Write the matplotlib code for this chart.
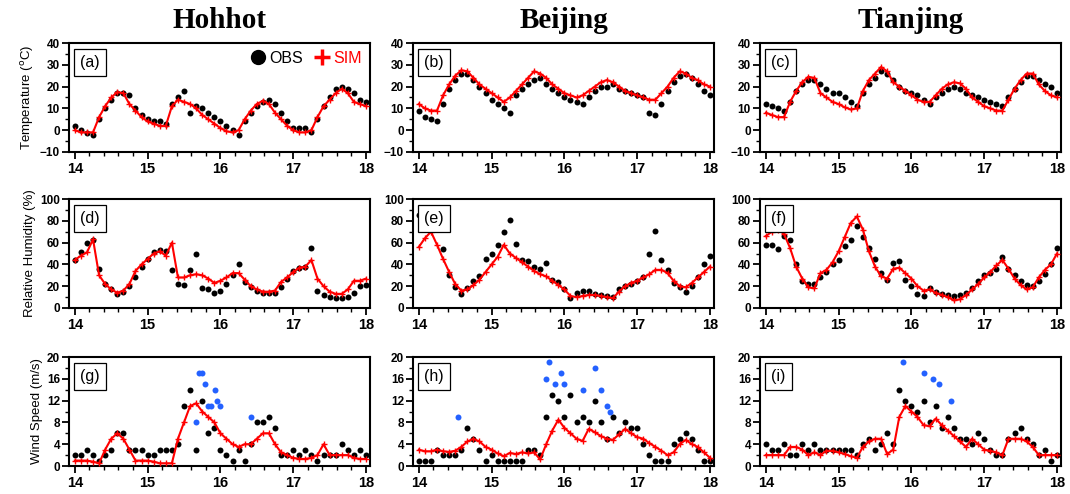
import numpy as np
import matplotlib
matplotlib.use('Agg')
import matplotlib.pyplot as plt
from matplotlib.ticker import MultipleLocator

plt.rcParams['font.family'] = ['Liberation Sans', 'DejaVu Sans']

# time axis, every 2 h from day 14 to day 18
t = 14 + np.arange(49) / 12.0

cities = ['Hohhot', 'Beijing', 'Tianjing']

# ---- temperature (degC)
t2_obs_hh = [2, 0, -1.5, -2, 5, 10, 14, 17, 17, 16, 10, 7,
             5, 4, 4, 3, 12, 15, 18, 8, 11, 10, 8, 6,
             4, 2, 0, -2, 4, 8, 11, 13, 14, 12, 8, 4,
             1, 1, 1, -1, 5, 11, 15, 19, 20, 19, 17, 14,
             13]
t2_sim_hh = [0, -1, -1, -1, 6, 11, 15, 17.5, 17, 12, 9, 6,
             4, 3, 2, 2, 11, 14, 13, 12, 10, 7, 5, 3,
             1, -0.5, -1, 0, 5, 9, 12, 13.5, 12, 8, 5, 2,
             0, -1, -1, 0, 6, 11, 14, 17, 19, 17, 13, 12,
             11]
t2_obs_bj = [9, 6, 5, 4, 12, 19, 23, 26, 26, 23, 20, 17,
             14, 12, 10, 8, 16, 19, 21, 23, 24, 21, 19, 17,
             15, 14, 13, 12, 15, 18, 20, 20, 21, 19, 18, 17,
             16, 15, 8, 7, 12, 18, 22, 25, 26, 24, 21, 18,
             16]
t2_sim_bj = [12, 10, 9, 9, 16, 21, 25, 27.5, 27, 24, 21, 19,
             17, 15, 13, 15, 18, 21, 24, 27, 26, 24, 21, 19,
             17, 16, 15, 16, 18, 20, 22, 23, 22, 20, 18, 17,
             16, 15, 14, 14, 17, 20, 24, 27, 26, 24, 23, 21,
             20]
t2_obs_tj = [12, 11, 10, 9, 13, 18, 21, 23, 23, 21, 19, 17,
             17, 15, 13, 11, 17, 21, 24, 27, 26, 23, 20, 18,
             17, 16, 14, 12, 15, 17, 19, 20, 19, 17, 16, 15,
             14, 13, 12, 11, 15, 19, 22, 25, 25, 23, 21, 20,
             17]
t2_sim_tj = [8, 7, 6, 6, 13, 18, 22, 24.5, 24, 17, 15, 13,
             12, 10.5, 9.5, 10, 18, 23, 26, 29, 27, 22, 20, 18,
             16, 14, 13, 13, 16, 19, 21, 22, 21.5, 19, 15, 13,
             11, 10, 9, 9, 14, 19, 23, 26, 26, 21, 18, 16,
             15]

# ---- relative humidity (%)
rh_obs_hh = [44, 51, 60, 62, 36, 22, 17, 13, 15, 20, 28, 38,
             45, 51, 53, 52, 35, 22, 21, 35, 50, 18, 17, 14,
             16, 22, 30, 40, 24, 19, 16, 14, 14, 14, 19, 27,
             34, 37, 38, 55, 16, 12, 10, 9, 9, 10, 14, 20,
             21]
rh_sim_hh = [44, 48, 51, 63, 30, 22, 17, 14, 16, 22, 34, 40,
             45, 50, 52, 48, 60, 28, 28, 30, 31, 30, 27, 23,
             25, 28, 32, 32, 26, 20, 17, 15, 15, 16, 24, 28,
             33, 37, 38, 44, 27, 20, 15, 13, 13, 17, 25, 25,
             27]
rh_obs_bj = [85, 86, 84, 78, 54, 30, 19, 13, 18, 25, 29, 45,
             50, 58, 70, 81, 59, 44, 43, 38, 36, 41, 26, 24,
             17, 9, 14, 16, 16, 13, 12, 11, 10, 17, 20, 22,
             25, 28, 50, 71, 44, 35, 23, 19, 15, 20, 28, 40,
             48]
rh_sim_bj = [56, 64, 70, 58, 45, 33, 22, 16, 17, 21, 26, 33,
             40, 47, 58, 50, 46, 42, 38, 34, 31, 29, 25, 21,
             17, 11, 10, 11, 12, 12, 11, 10, 9, 15, 20, 23,
             25, 28, 31, 35, 35, 32, 25, 20, 19, 23, 28, 33,
             38]
rh_obs_tj = [58, 58, 54, 66, 62, 40, 25, 22, 22, 28, 33, 40,
             44, 57, 62, 75, 65, 55, 45, 32, 26, 41, 43, 26,
             20, 13, 11, 18, 15, 13, 12, 11, 12, 14, 18, 25,
             30, 32, 36, 47, 36, 30, 25, 21, 20, 25, 31, 40,
             55]
rh_sim_tj = [66, 70, 72, 68, 55, 38, 27, 19, 18, 32, 35, 42,
             52, 65, 78, 84, 72, 52, 38, 29, 27, 36, 37, 32,
             27, 20, 16, 17, 14, 12, 10, 7, 8, 12, 17, 22,
             28, 33, 39, 44, 36, 27, 21, 17, 19, 28, 35, 40,
             50]

# ---- wind speed (m/s)
ws_obs_hh = [2, 2, 3, 2, 1, 2, 3, 6, 6, 3, 3, 3,
             2, 2, 3, 3, 3, 4, 11, 14, 3, 12, 6, 7,
             3, 2, 1, 3, 1, 4, 8, 8, 9, 7, 2, 2,
             3, 2, 3, 2, 1, 2, 2, 2, 4, 3, 2, 3,
             2]
ws_sim_hh = [1, 1, 1, 0.8, 0.5, 3, 5, 6, 5, 3, 1, 1,
             1, 0.8, 0.5, 0.5, 0.5, 5, 8, 11, 11.5, 10, 9, 8,
             6, 5, 4, 3.5, 4, 4, 5, 6, 6, 4, 2.5, 2,
             1.5, 1.3, 1.3, 1.5, 2, 4, 2, 2, 2, 2, 1.5, 1.3,
             1.3]
ws_obs_bj = [1, 1, 1, 3, 2, 2, 2, 3, 7, 5, 3, 1,
             2, 1, 1, 1, 1, 1, 3, 3, 2, 9, 13, 12,
             9, 13, 8, 9, 8, 12, 8, 5, 9, 6, 8, 7,
             7, 4, 2, 1, 1, 1, 4, 5, 6, 5, 3, 1,
             1]
ws_sim_bj = [3, 2.7, 2.7, 3, 2.7, 2.6, 2.8, 3.5, 4.5, 5, 4.5, 3.5,
             3, 2.3, 1.8, 2.4, 2.2, 2.5, 2.3, 2.5, 1.2, 4, 6.5, 8.5,
             7, 6, 5, 4.6, 6.8, 6.2, 5.5, 5, 4.8, 5.8, 6.8, 6,
             5.3, 5, 4.2, 3.5, 2.8, 2, 2.5, 4, 4.8, 4, 3.5, 2.5,
             1.5]
ws_obs_tj = [4, 3, 3, 4, 2, 2, 4, 3, 4, 3, 3, 3,
             3, 3, 3, 2, 4, 5, 3, 4, 6, 4, 14, 12,
             11, 10, 12, 8, 11, 7, 9, 7, 5, 5, 4, 6,
             5, 3, 2, 2, 5, 6, 7, 5, 4, 2, 3, 1,
             2]
ws_sim_tj = [2, 2, 2, 2, 3.5, 3.5, 3, 2, 2.5, 2, 2.8, 2.8,
             2.5, 2.2, 1.8, 1.5, 3.5, 4.5, 5, 5, 2.2, 3, 9, 11,
             10, 9, 7.5, 7.3, 8.7, 7.5, 6.5, 5.5, 4.5, 3.5, 5, 4,
             3, 2.8, 2.5, 2, 5, 5, 5, 4.5, 3.5, 2, 2, 2,
             2]

# gust-like obs shown in blue
blue_t_hh = [15.67, 15.71, 15.75, 15.79, 15.83, 15.87, 15.92, 15.96, 16.0, 16.42]
blue_v_hh = [8, 17, 17, 15, 11, 11, 14, 12, 11, 9]
blue_t_bj = [14.54, 15.75, 15.79, 15.87, 15.96, 16.0, 16.25, 16.42, 16.5, 16.58, 16.62]
blue_v_bj = [9, 16, 19, 15, 17, 15, 14, 18, 14, 11, 10]
blue_t_tj = [15.88, 16.17, 16.29, 16.38, 16.55]
blue_v_tj = [19, 17, 16, 15, 12]

rows = [
    ([t2_obs_hh, t2_obs_bj, t2_obs_tj], [t2_sim_hh, t2_sim_bj, t2_sim_tj],
     r'Temperature ($^{\rm o}$C)', (-10, 40), 10, 5),
    ([rh_obs_hh, rh_obs_bj, rh_obs_tj], [rh_sim_hh, rh_sim_bj, rh_sim_tj],
     'Relative Humidity (%)', (0, 100), 20, 10),
    ([ws_obs_hh, ws_obs_bj, ws_obs_tj], [ws_sim_hh, ws_sim_bj, ws_sim_tj],
     'Wind Speed (m/s)', (0, 20), 4, 2),
]
blue = [(blue_t_hh, blue_v_hh), (blue_t_bj, blue_v_bj), (blue_t_tj, blue_v_tj)]
letters = 'abcdefghi'

W, H = 1070, 494
fig = plt.figure(figsize=(W / 100, H / 100), dpi=100)

lefts = [69, 413, 760]
tops = [43, 199, 357]
aw, ah = 301, 109

for r, (obs, sim, ylab, ylim, ymaj, ymin) in enumerate(rows):
    for c in range(3):
        ax = fig.add_axes([lefts[c] / W, 1 - (tops[r] + ah) / H, aw / W, ah / H])
        ax.plot(t, obs[c], 'o', color='black', ms=4.3, mew=0, zorder=3)
        if r == 2:
            ax.plot(blue[c][0], blue[c][1], 'o', color='#2461ff', ms=4.3, mew=0, zorder=3)
        ax.plot(t, sim[c], '-', color='red', lw=1.5, marker='+', ms=4, mew=1, zorder=4)

        ax.set_xlim(13.92, 18.055)
        ax.set_ylim(*ylim)
        ax.set_xticks([14, 15, 16, 17, 18])
        ax.xaxis.set_minor_locator(MultipleLocator(0.2))
        ax.yaxis.set_major_locator(MultipleLocator(ymaj))
        ax.yaxis.set_minor_locator(MultipleLocator(ymin))
        ax.tick_params(which='major', direction='out', length=5, width=1.3,
                       labelsize=8.5, pad=1.5)
        ax.tick_params(which='minor', direction='out', length=3, width=1.0)
        ax.tick_params(axis='x', which='major', labelsize=10.5, pad=2)
        plt.setp(ax.get_xticklabels(), fontweight='bold')
        plt.setp(ax.get_yticklabels(), fontweight='bold')
        for s in ax.spines.values():
            s.set_linewidth(1.5)

        ax.text(0.037, 0.89, '(%s)' % letters[3 * r + c], transform=ax.transAxes,
                ha='left', va='top', fontsize=11.5, zorder=10,
                bbox=dict(boxstyle='square,pad=0.4', fc='white', ec='black', lw=0.9))

        if c == 0:
            ax.set_ylabel(ylab, fontsize=9.5, labelpad=3)
        if r == 0:
            fig.text((lefts[c] + aw / 2) / W, 1 - 20 / H, cities[c],
                     ha='center', va='center', fontsize=21, fontweight='bold',
                     family='Liberation Serif')
        if r == 0 and c == 0:
            h1, = ax.plot([], [], 'o', color='black', ms=10)
            h2, = ax.plot([], [], '+', color='red', ms=11, mew=2.5)
            leg = ax.legend([h1, h2], ['OBS', 'SIM'], loc='upper right', ncol=2,
                            frameon=False, fontsize=11.5, handletextpad=0.1,
                            columnspacing=0.6, handlelength=1.2, borderaxespad=0.1)
            leg.get_texts()[1].set_color('red')

fig.savefig('out.png', dpi=100)
